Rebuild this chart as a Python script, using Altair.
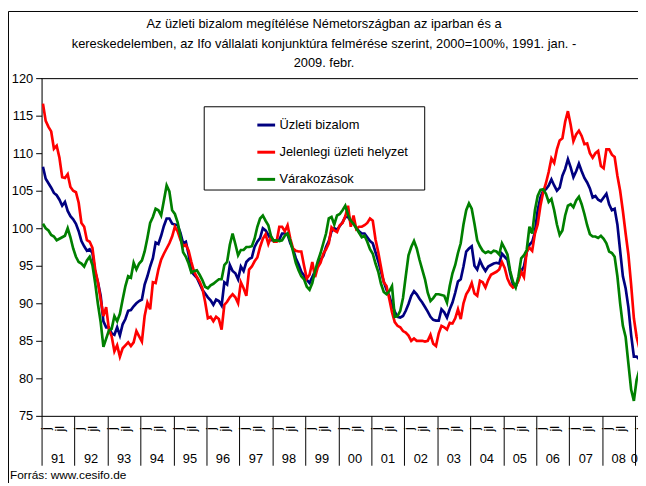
import altair as alt
import pandas as pd

# ---- data (monthly, 1991 Jan .. 2009 Feb) ----
series_names = ["Üzleti bizalom", "Jelenlegi üzleti helyzet", "Várakozások"]
series_colors = ["#000080", "#FF0000", "#008000"]

bizalom = [
    108.2, 106.6, 106.0, 105.4, 104.7, 104.4, 103.8, 103.0, 103.5, 102.3, 101.6, 101.2,
    100.6, 99.6, 98.3, 97.6, 97.0, 97.2, 96.7, 94.2, 92.8, 91.0, 87.6, 86.8,
    86.8, 86.0, 85.8, 86.8, 85.7, 87.2, 87.9, 89.0, 89.1, 89.6, 90.0, 90.3,
    90.5, 92.5, 93.6, 94.9, 96.0, 98.1, 97.9, 99.0, 100.3, 101.3, 101.3, 100.6,
    100.5, 100.4, 99.4, 98.0, 98.2, 96.5, 94.2, 93.8, 93.4, 92.6, 91.8, 91.3,
    90.8, 90.4, 89.8, 90.5, 90.3, 89.7, 92.8, 92.5, 95.1, 94.3, 94.0, 93.2,
    94.9, 94.3, 95.5, 95.9, 96.1, 97.5, 98.2, 98.7, 100.0, 99.7, 99.1, 98.4,
    98.4, 98.3, 98.5, 99.3, 99.3, 99.2, 98.0, 97.2, 96.0, 95.2, 94.2, 93.7,
    93.1, 92.7, 93.5, 94.3, 95.0, 95.8, 96.3, 97.5, 98.3, 99.6, 100.0, 99.8,
    100.3, 100.8, 101.5, 101.5, 100.9, 100.6, 100.1, 99.6, 99.3, 99.3, 98.8, 98.3,
    98.0, 96.8, 95.6, 94.2, 92.9, 91.8, 91.0, 89.8, 88.9, 88.2, 88.1, 88.3,
    89.0, 89.9, 91.0, 91.6, 91.2, 90.6, 90.1, 89.5, 88.9, 88.2, 87.8, 87.7,
    87.7, 89.2, 88.8, 88.1, 89.2, 90.1, 91.4, 92.9, 93.2, 94.9, 96.9, 97.3,
    97.6, 95.0, 94.5, 95.7, 94.9, 94.3, 94.9, 95.1, 95.3, 95.4, 95.3, 96.6,
    96.2, 95.8, 94.0, 92.5, 92.2, 93.2, 94.3, 94.9, 96.8, 97.8, 98.2, 99.5,
    102.4, 104.1, 105.0, 105.2, 105.7, 106.5, 105.7, 105.0, 105.4, 107.0, 107.9, 109.2,
    108.1, 106.8, 107.6, 108.6, 107.6, 106.7, 106.1, 105.3, 104.1, 104.3, 103.8, 103.6,
    104.1, 104.6, 103.2, 102.4, 102.6, 100.5, 97.0, 93.6, 92.0, 89.5, 85.8, 82.9,
    82.9, 82.5,
]

helyzet = [
    116.6, 114.3, 113.5, 112.9, 110.6, 111.0, 109.4, 106.8, 106.7, 107.2, 105.5, 105.0,
    104.8, 103.4, 100.7, 100.2, 98.4, 98.2, 97.4, 94.5, 92.8, 90.5, 88.3, 89.5,
    86.5, 85.6, 83.6, 84.4, 82.9, 84.0, 84.4, 84.8, 84.3, 84.8, 86.3, 85.6,
    84.9, 88.3, 90.1, 89.2, 92.8, 92.7, 94.5, 95.8, 96.6, 97.3, 98.0, 98.9,
    100.2, 99.6, 98.5, 97.6, 97.8, 97.0, 95.5, 94.2, 93.5, 92.9, 92.0, 90.2,
    88.0, 88.2, 87.6, 88.2, 87.9, 86.5, 89.8, 90.2, 90.8, 91.2, 90.8, 90.0,
    92.8, 92.0, 91.0, 94.5, 94.9, 95.6, 96.1, 97.5, 98.6, 99.2, 97.9, 98.9,
    98.2, 98.2, 100.2, 100.2, 99.6, 100.4, 98.6, 97.3, 97.0, 96.9, 96.9, 95.0,
    93.3, 93.8, 95.5, 93.5, 94.8, 95.4, 96.6, 97.2, 98.0, 100.1, 99.7, 99.5,
    100.4, 100.7, 101.6, 103.0, 100.2, 101.7, 99.9, 100.2, 100.2, 100.4, 100.7, 101.3,
    101.0, 98.5, 96.8, 94.8, 92.8, 92.3, 90.6, 88.8, 87.5, 87.0, 86.8, 86.3,
    86.1, 85.7, 85.0, 85.3, 85.0, 85.0, 85.0, 84.9, 85.0, 85.8, 84.6, 84.3,
    86.0, 87.0, 86.8, 86.5, 87.4, 87.3, 88.0, 89.2, 87.9, 90.0, 91.2, 91.8,
    92.7, 91.3, 91.0, 93.0, 92.8, 92.1, 93.1, 93.8, 94.0, 94.2, 94.5, 95.5,
    94.7, 93.3, 92.5, 92.1, 92.3, 93.0, 94.2, 93.5, 96.9, 97.4, 97.0, 99.3,
    100.5, 103.0, 104.8, 106.0, 107.5, 109.3, 108.7, 110.5, 111.7, 112.0, 114.2, 115.6,
    113.8, 111.6, 112.5, 113.0, 112.3, 111.2, 111.3, 110.0, 109.4, 110.0, 110.3, 108.3,
    108.0, 110.5, 110.5, 109.8, 109.5, 107.0, 105.0, 102.3, 99.3, 96.5, 92.5, 88.0,
    85.5, 84.0,
]

varakozasok = [
    100.6, 100.0, 99.7, 99.1, 98.9, 98.4, 98.6, 98.8, 99.0, 100.0, 98.8, 97.3,
    96.2, 95.5, 95.3, 94.9, 95.7, 96.2, 95.1, 92.7, 89.9, 87.5, 84.2, 85.3,
    86.4, 86.6, 88.3, 87.6, 88.6, 90.5, 92.3, 93.6, 93.4, 95.4, 94.5, 95.3,
    95.7, 96.9, 98.7, 100.7, 101.5, 102.6, 102.4, 101.7, 103.7, 105.7, 104.9, 102.4,
    101.9, 100.8, 99.0, 96.8, 96.2, 95.3, 94.1, 94.3, 94.4, 93.8, 93.1, 92.2,
    92.0, 92.4, 92.6, 92.9, 93.2, 93.2, 95.1, 95.5, 97.8, 99.3, 97.9, 96.4,
    97.1, 97.1, 97.5, 97.5, 97.6, 98.6, 100.2, 101.3, 101.7, 101.0, 100.4, 98.9,
    98.3, 98.4, 98.3, 98.4, 99.0, 99.3, 98.3, 96.9, 95.4, 94.4, 93.6, 93.2,
    92.2, 91.8, 92.7, 94.3, 95.6, 96.7, 98.0, 99.3, 101.3, 101.5, 100.5, 101.7,
    101.9, 102.4, 103.0, 101.8, 101.0, 100.6, 100.0, 99.4, 98.8, 99.0, 98.2, 97.2,
    96.6, 95.3, 94.2, 92.6, 91.5, 91.2, 91.6, 92.3, 88.2, 88.3, 89.0, 90.7,
    93.6, 96.4, 97.5, 98.3, 97.3, 95.8, 94.5, 93.2, 91.4, 90.3, 90.7, 91.2,
    91.2, 91.1, 91.0, 90.1, 92.3, 94.0, 95.1, 96.7, 98.0, 100.5, 102.4, 103.3,
    102.6, 100.6, 98.4, 97.6, 97.0, 96.7, 96.9, 96.7, 97.0, 96.9, 96.5, 98.0,
    97.3, 96.5, 94.3, 92.9, 92.1, 93.6, 96.0, 96.4, 97.1, 100.2, 99.3, 102.4,
    104.3, 105.1, 105.2, 104.6, 103.5, 103.9, 102.4, 100.5, 99.1, 99.7, 101.7, 103.0,
    103.2, 102.8, 103.7, 104.2, 103.2, 101.9, 100.4, 99.2, 98.9, 98.9, 98.7, 99.0,
    98.6, 98.0, 96.9, 96.7, 96.2, 93.6, 90.0, 87.0, 85.5, 82.0, 78.5, 77.0,
    79.8, 81.1,
]

year_labels = ["91", "92", "93", "94", "95", "96", "97", "98", "99", "00",
               "01", "02", "03", "04", "05", "06", "07", "08", "09"]
month_labels = ["j", "jl"]
y_tick_values = [75, 80, 85, 90, 95, 100, 105, 110, 115, 120]

title_lines = [
    "Az üzleti bizalom megítélése Németországban az iparban és a",
    "kereskedelemben, az Ifo vállalati konjunktúra felmérése szerint, 2000=100%, 1991. jan. -",
    "2009. febr.",
]
source_text = "Forrás: www.cesifo.de"

# ---- tables built from the arrays ----
rows = []
for name, vals in zip(series_names, [bizalom, helyzet, varakozasok]):
    for i, v in enumerate(vals):
        rows.append({"t": i, "honap": f"{1991 + i // 12}-{i % 12 + 1:02d}",
                     "series": name, "value": v})
df = pd.DataFrame(rows)

n_full_years = 18
mrows, yrows = [], []
for k, yl in enumerate(year_labels):
    mrows.append({"t": 12 * k + 1.3, "lab": month_labels[0]})
    if k < n_full_years:
        mrows.append({"t": 12 * k + 6.2, "lab": month_labels[1]})
        yrows.append({"t": 12 * k + 5.5, "lab": yl})
    else:
        yrows.append({"t": 12 * k + 0.5, "lab": yl})
mdf = pd.DataFrame(mrows)
ydf = pd.DataFrame(yrows)
year_bounds = [12 * k - 0.5 for k in range(len(year_labels))]

FONT = "Liberation Sans Narrow, Arial Narrow, Liberation Sans, Arial, sans-serif"
W, H = 604, 342

x_scale = alt.Scale(domain=[-0.5, 216.5], nice=False, zero=False)
y_scale = alt.Scale(domain=[75, 120], nice=False, zero=False)
color_scale = alt.Scale(domain=series_names, range=series_colors)

legend = alt.Legend(orient="none", legendX=217, legendY=37, title=None,
                    symbolType="stroke", symbolSize=324, symbolStrokeWidth=3,
                    labelFont=FONT, labelFontSize=13, labelColor="black",
                    rowPadding=9.5, labelOffset=3, padding=0)

x_axis = alt.Axis(values=year_bounds, tickSize=50, labels=False, title=None,
                  grid=False, domainColor="black", tickColor="black",
                  domainWidth=1, tickWidth=1)
y_axis = alt.Axis(values=y_tick_values, title=None, grid=False, tickSize=6,
                  labelPadding=3, labelFont=FONT, labelFontSize=13,
                  labelColor="black", domainColor="black", tickColor="black")

X = alt.X("t:Q", scale=x_scale, axis=x_axis)
Y = alt.Y("value:Q", scale=y_scale, axis=y_axis)

base = alt.Chart(df)
layers = []
for name in series_names:
    layers.append(
        base.transform_filter(alt.datum.series == name)
        .mark_line(strokeWidth=2.7, clip=True)
        .encode(x=X, y=Y,
                color=alt.Color("series:N", scale=color_scale, legend=legend))
    )

one = pd.DataFrame({"a": [0]})
legend_box = alt.Chart(one).mark_rect(fill="white", stroke="black", strokeWidth=1).encode(
    x=alt.value(164.7), x2=alt.value(388), y=alt.value(29), y2=alt.value(113.3))

month_text = alt.Chart(mdf).mark_text(angle=270, align="center", baseline="middle",
                                      font=FONT, fontSize=13, color="black").encode(
    x=X, y=alt.value(355), text="lab:N")
year_text = alt.Chart(ydf).mark_text(align="center", baseline="middle",
                                     font=FONT, fontSize=13, color="black").encode(
    x=X, y=alt.value(386), text="lab:N")
src = alt.Chart(pd.DataFrame({"s": [source_text]})).mark_text(
    align="left", baseline="middle", font=FONT, fontSize=12, color="black").encode(
    x=alt.value(-32), y=alt.value(401.5), text="s:N")
title_text = alt.Chart(one).mark_text(
    align="center", baseline="middle", font=FONT, fontSize=13, lineHeight=20,
    color="black").encode(x=alt.value(W / 2 - 16), y=alt.value(-55),
                          text=alt.value(title_lines))

frame_left = alt.Chart(one).mark_rule(color="black", strokeWidth=1).encode(
    x=alt.value(-33.5), y=alt.value(-67.5), y2=alt.value(H + 68))
frame_top = alt.Chart(one).mark_rule(color="black", strokeWidth=1).encode(
    x=alt.value(-33.5), x2=alt.value(W), y=alt.value(-67.5))
plot_top = alt.Chart(one).mark_rule(color="black", strokeWidth=1).encode(
    x=alt.value(0), x2=alt.value(W), y=alt.value(0.5))

chart = alt.layer(
    *layers, legend_box, month_text, year_text, src, title_text,
    frame_left, frame_top, plot_top
).properties(
    width=W, height=H,
    autosize=alt.AutoSizeParams(type="none"),
    padding={"left": 34, "top": 68, "right": 0, "bottom": 68},
).configure_view(stroke=None).configure(background="white")

chart.save("out.html", embed_options={"renderer": "svg", "actions": False})
